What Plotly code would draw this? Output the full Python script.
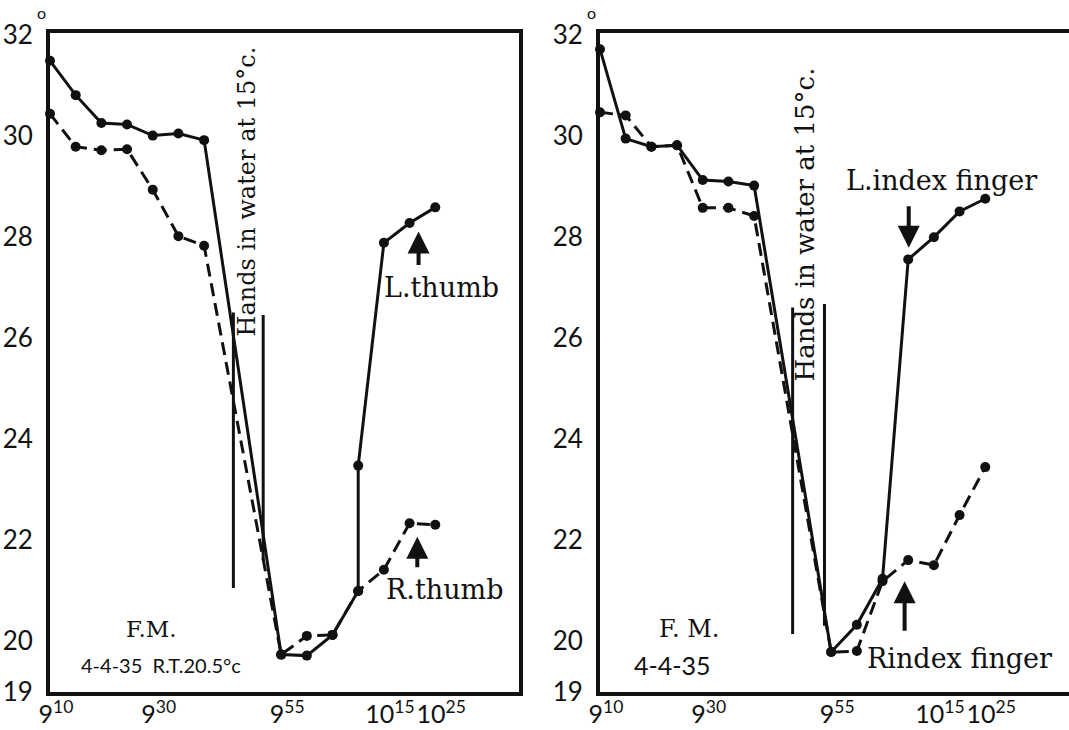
import plotly.graph_objects as go

# ---------------- data (time = minutes after 9:00, temperature in °C) ----------------
left_time_L = [10, 15, 20, 25, 30, 35, 40, 55, 60, 65, 70, 70, 75, 80, 85]
left_L_thumb = [31.48, 30.80, 30.25, 30.22, 30.00, 30.04, 29.91, 19.73, 19.71, 20.12, 20.99, 23.47, 27.88, 28.27, 28.58]
left_time_R = [10, 15, 20, 25, 30, 35, 40, 55, 60, 65, 70, 75, 80, 85]
left_R_thumb = [30.43, 29.78, 29.71, 29.73, 28.93, 28.01, 27.82, 19.73, 20.10, 20.12, 20.99, 21.41, 22.33, 22.30]

right_time = [10, 15, 20, 25, 30, 35, 40, 55, 60, 65, 70, 75, 80, 85]
right_L_index = [31.71, 29.94, 29.78, 29.81, 29.12, 29.09, 29.01, 19.78, 20.32, 21.23, 27.55, 27.99, 28.50, 28.75]
right_R_index = [30.46, 30.40, 29.78, 29.81, 28.57, 28.57, 28.41, 19.78, 19.80, 21.18, 21.60, 21.50, 22.49, 23.44]

# "Hands in water" markers: time, low temp, high temp
left_hands_time = [45.7, 51.5]
left_hands_low = [21.05, 21.6]
left_hands_high = [26.5, 26.45]
right_hands_time = [47.5, 53.7]
right_hands_low = [20.14, 20.3]
right_hands_high = [26.6, 26.67]

x_tickvals = [10, 30, 55, 75, 85]
x_ticktext = ["9<sup>10</sup>", "9<sup>30</sup>", "9<sup>55</sup>", "10<sup>15</sup>", "10<sup>25</sup>"]
y_tickvals = [19, 20, 22, 24, 26, 28, 30, 32]
y_ticktext = ["19", "20", "22", "24", "26", "28", "30", "32"]

# ---------------- figure ----------------
W, H = 1069, 730
T, B = 33, 38
INK = "#111111"
fig = go.Figure()

def add_series(x, y, xa, ya, dash):
    fig.add_trace(go.Scatter(
        x=x, y=y, xaxis=xa, yaxis=ya, mode="lines+markers",
        line=dict(color=INK, width=3, dash=dash),
        marker=dict(color=INK, size=10),
        cliponaxis=False, showlegend=False, hoverinfo="skip"))

def add_hands(times, lows, highs, xa, ya):
    for t, lo, hi in zip(times, lows, highs):
        fig.add_trace(go.Scatter(
            x=[t, t], y=[lo, hi], xaxis=xa, yaxis=ya, mode="lines",
            line=dict(color=INK, width=3), showlegend=False, hoverinfo="skip"))

add_hands(left_hands_time, left_hands_low, left_hands_high, "x", "y")
add_series(left_time_R, left_R_thumb, "x", "y", "13px,7px")
add_series(left_time_L, left_L_thumb, "x", "y", "solid")

add_hands(right_hands_time, right_hands_low, right_hands_high, "x2", "y2")
add_series(right_time, right_R_index, "x2", "y2", "13px,7px")
add_series(right_time, right_L_index, "x2", "y2", "solid")

sans = "Lato, DejaVu Sans, sans-serif"
serif = "DejaVu Serif, Liberation Serif, serif"
common_x = dict(range=[10, 101.3], showgrid=False, zeroline=False, showline=True,
                linecolor=INK, linewidth=4, ticks="", tickmode="array",
                tickvals=x_tickvals, ticktext=x_ticktext, tickangle=0,
                tickfont=dict(family=sans, size=25, color=INK),
                ticklabelshift=6, ticklabelstandoff=-3, automargin=False)
common_y = dict(range=[18.99, 32.03], showgrid=False, zeroline=False, showline=True,
                linecolor=INK, linewidth=4, ticks="", tickmode="array",
                tickvals=y_tickvals, ticktext=y_ticktext,
                tickfont=dict(family=sans, size=26, color=INK),
                ticklabelstandoff=8, automargin=False)

fig.update_layout(
    width=W, height=H,
    margin=dict(l=0, r=0, t=T, b=B),
    paper_bgcolor="white", plot_bgcolor="white",
    template="none",
    xaxis=dict(domain=[50 / W, 519 / W], anchor="y", mirror=True, **common_x),
    yaxis=dict(domain=[0, 1], anchor="x", mirror=True, **common_y),
    xaxis2=dict(domain=[600 / W, 1.0], anchor="y2", mirror=True, **common_x),
    yaxis2=dict(domain=[0, 1], anchor="x2", mirror=False, **common_y),
)

def note(text, x, y, xr, yr, size, family=serif, angle=0):
    fig.add_annotation(text=text, x=x, y=y, xref=xr, yref=yr, showarrow=False,
                       textangle=angle, xanchor="center", yanchor="middle",
                       font=dict(family=family, size=size, color=INK))

def arrow(x, y, ay, xr, yr):
    fig.add_annotation(text="", x=x, y=y, xref=xr, yref=yr, ax=0, ay=ay,
                       showarrow=True, arrowhead=2, arrowsize=1.1, arrowwidth=4,
                       arrowcolor=INK)

# degree marks on the 32 labels (placed in page pixels)
for px in (41, 591):
    fig.add_annotation(text="o", xref="paper", yref="paper",
                       x=px / W, y=(H - B - 12) / (H - T - B), showarrow=False,
                       xanchor="center", yanchor="middle",
                       font=dict(family=sans, size=16, color=INK))

# left panel texts
note("Hands in water at 15°c.", 48.4, 28.9, "x", "y", 24, angle=-90)
note("L.thumb", 86.2, 27.0, "x", "y", 27)
note("R.thumb", 86.8, 21.02, "x", "y", 27)
note("F.M.", 29.7, 20.24, "x", "y", 23)
note("4-4-35  R.T.20.5°c", 31.7, 19.53, "x", "y", 20, family=sans)
arrow(81.75, 28.1, 35, "x", "y")
arrow(81.5, 22.06, 32, "x", "y")

# right panel texts
note("Hands in water at 15°c.", 50.0, 28.25, "x2", "y2", 26, angle=-90)
note("L.index finger", 76.4, 29.12, "x2", "y2", 27)
note("Rindex finger", 80.05, 19.65, "x2", "y2", 27)
note("F. M.", 27.4, 20.24, "x2", "y2", 24)
note("4-4-35", 24.1, 19.53, "x2", "y2", 25, family=sans)
arrow(70.1, 27.78, -43, "x2", "y2")
arrow(69.3, 21.18, 51, "x2", "y2")

fig.write_html("out.html")
